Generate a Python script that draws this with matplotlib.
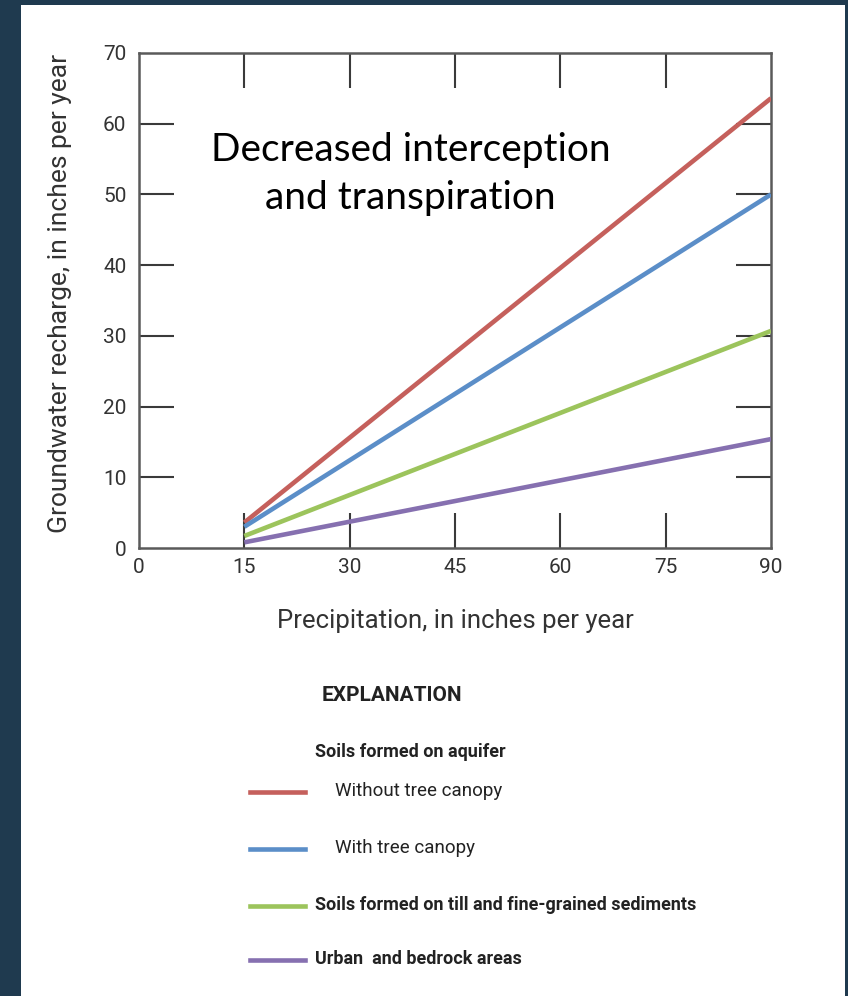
import matplotlib
matplotlib.use("Agg")
import matplotlib.pyplot as plt
from matplotlib.patches import Rectangle
from matplotlib.lines import Line2D

# precipitation (in/yr) at ends of each line
precip = [15, 90]
without_canopy = [3.6, 63.6]
with_canopy = [3.0, 50.0]
till_soils = [1.7, 30.7]
urban_bedrock = [0.8, 15.4]

series_names = ["Without tree canopy", "With tree canopy",
                "Soils formed on till and fine-grained sediments",
                "Urban  and bedrock areas"]
colors = ["#c5605c", "#5b8ec8", "#9cc45c", "#8670b0"]

xticks = [0, 15, 30, 45, 60, 75, 90]
yticks = [0, 10, 20, 30, 40, 50, 60, 70]

narrow = ["Roboto", "DejaVu Sans"]
W, H = 848, 996

fig = plt.figure(figsize=(W / 100, H / 100), dpi=100)
fig.patch.set_facecolor("#1f3a4f")
fig.patches.append(Rectangle((21 / W, 0), (845 - 21) / W, (H - 5) / H,
                             transform=fig.transFigure, facecolor="white",
                             edgecolor="none", zorder=-5))

ax = fig.add_axes([139 / W, 1 - 548 / H, (771 - 139) / W, (548 - 53) / H])
ax.set_facecolor("none")
ax.set_zorder(2)
ax.set_xlim(0, 90)
ax.set_ylim(0, 70)

for ys, c in zip([without_canopy, with_canopy, till_soils, urban_bedrock], colors):
    ax.plot(precip, ys, color=c, lw=3.3, solid_capstyle="butt", zorder=3)

for s in ax.spines.values():
    s.set_color("#5a5a5a")
    s.set_linewidth(1.8)

ax.set_xticks(xticks)
ax.set_yticks(yticks)
ax.tick_params(direction="in", length=25, width=1.5, color="#3a3a3a",
               top=True, right=True, labelsize=15, labelcolor="#333333")
ax.tick_params(axis="x", pad=7)
ax.tick_params(axis="y", pad=9)
for lab in ax.get_xticklabels() + ax.get_yticklabels():
    lab.set_family(narrow)
# no tick marks at the corners
for t in (ax.xaxis.get_major_ticks()[0], ax.xaxis.get_major_ticks()[-1],
          ax.yaxis.get_major_ticks()[0], ax.yaxis.get_major_ticks()[-1]):
    t.tick1line.set_visible(False)
    t.tick2line.set_visible(False)

fig.text(455 / W, 1 - 621 / H, "Precipitation, in inches per year",
         ha="center", va="center", fontsize=18.5, color="#333333", family=narrow)
fig.text(60 / W, 1 - 293 / H, "Groundwater recharge, in inches per year",
         ha="center", va="center", rotation=90, fontsize=19, color="#333333",
         family=narrow)

ax.text(0.430, 0.755, "Decreased interception\nand transpiration",
        transform=ax.transAxes, ha="center", va="center", fontsize=28,
        family="Lato", linespacing=1.42, color="black")

# legend / explanation
fig.text(392 / W, 1 - 695 / H, "EXPLANATION", ha="center", va="center",
         fontsize=15, fontweight="bold", color="#222222", family=narrow)
fig.text(315 / W, 1 - 752 / H, "Soils formed on aquifer", ha="left",
         va="center", fontsize=13, fontweight="bold", color="#222222",
         family=narrow)
leg_y = [792, 849, 906, 960]
leg_x = [335, 335, 315, 315]
leg_w = ["normal", "normal", "bold", "bold"]
for name, c, y, x, w in zip(series_names, colors, leg_y, leg_x, leg_w):
    fig.add_artist(Line2D([250 / W, 305 / W], [1 - y / H, 1 - y / H],
                          transform=fig.transFigure, color=c, lw=3.3))
    fig.text(x / W, 1 - (y - 1) / H, name, ha="left", va="center",
             fontsize=13 if w == "bold" else 13.5, fontweight=w,
             color="#222222", family=narrow)

fig.savefig("out.png", dpi=100, facecolor=fig.get_facecolor())
